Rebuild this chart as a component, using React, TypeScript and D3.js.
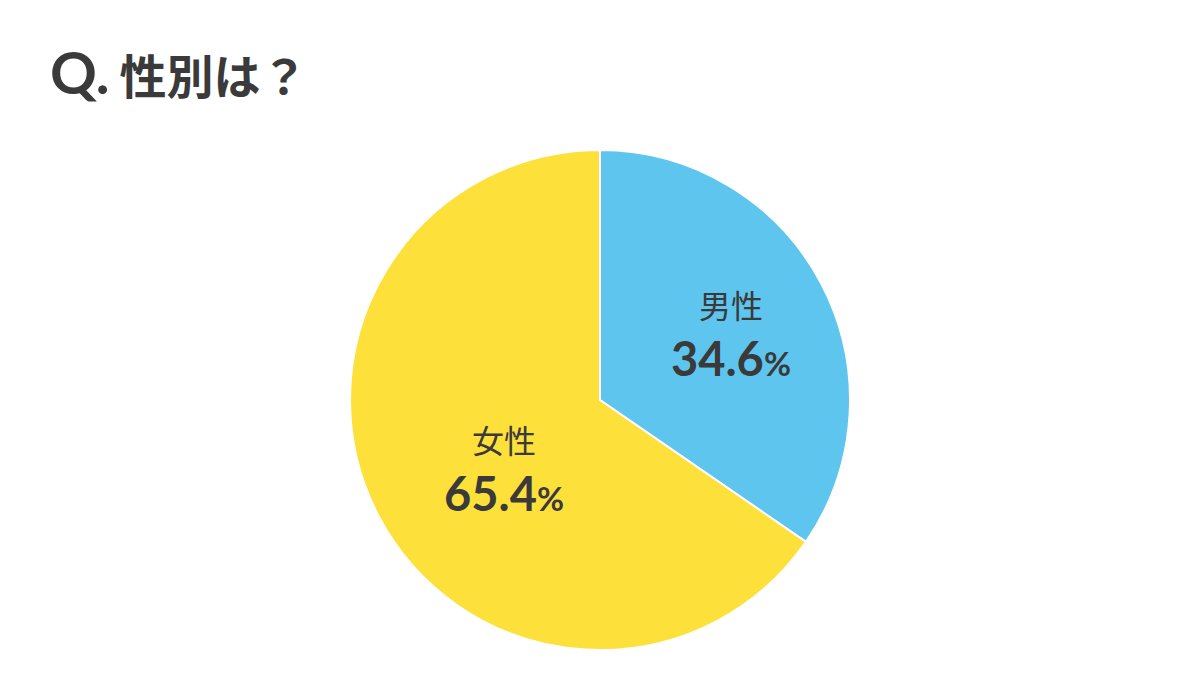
import React, { useEffect, useRef } from "react";
import * as d3 from "d3";

const titleLead = "Q.";
const titleText = "性別は？";
const categories = ["男性", "女性"];
const values = [34.6, 65.4];
const colors = ["#5EC5EE", "#FDE03A"];

const width = 1200;
const height = 700;

export default function App() {
    const ref = useRef<SVGSVGElement | null>(null);

    useEffect(() => {
        const svg = d3.select(ref.current);
        svg.selectAll("*").remove();

        const cx = 600;
        const cy = 400;
        const radius = 250;
        const font = "Lato, 'Noto Sans CJK JP', sans-serif";
        const ink = "#3a3a3a";

        svg.append("rect")
            .attr("width", width)
            .attr("height", height)
            .attr("fill", "#fff");

        const t = svg.append("text")
            .attr("x", 50)
            .attr("y", 94)
            .attr("font-family", font)
            .attr("font-weight", 700)
            .attr("fill", ink);
        t.append("tspan").attr("font-size", 58).text(titleLead);
        t.append("tspan").attr("dx", 10).attr("font-size", 47).text(titleText);

        const pie = d3.pie<number>().sort(null).value(d => d);
        const arcs = pie(values);

        const arc = d3.arc<d3.PieArcDatum<number>>()
            .innerRadius(0)
            .outerRadius(radius);

        const labelArc = d3.arc<d3.PieArcDatum<number>>()
            .innerRadius(140)
            .outerRadius(140);

        // small nudges so the labels sit where the original put them
        const nudge = [[7, 5], [28, 10]];

        const g = svg.append("g").attr("transform", `translate(${cx},${cy})`);

        g.selectAll("path")
            .data(arcs)
            .join("path")
            .attr("d", arc)
            .attr("fill", (_, i) => colors[i])
            .attr("stroke", "#fff")
            .attr("stroke-width", 2);

        const labels = g.selectAll("g.label")
            .data(arcs)
            .join("g")
            .attr("class", "label")
            .attr("transform", (d, i) => {
                const [x, y] = labelArc.centroid(d);
                return `translate(${x + nudge[i][0]},${y + nudge[i][1]})`;
            });

        labels.append("text")
            .attr("text-anchor", "middle")
            .attr("y", -22)
            .attr("font-family", font)
            .attr("font-weight", 400)
            .attr("font-size", 32)
            .attr("fill", ink)
            .text((_, i) => categories[i]);

        const val = labels.append("text")
            .attr("text-anchor", "middle")
            .attr("y", 36)
            .attr("font-family", font)
            .attr("font-weight", 700)
            .attr("font-size", 47)
            .attr("fill", ink);

        val.append("tspan").text(d => d.data.toFixed(1));
        val.append("tspan").attr("font-size", 33).text("%");
    }, []);

    return <svg ref={ref} width={width} height={height} style={{ display: "block", margin: -8 }} />;
}
